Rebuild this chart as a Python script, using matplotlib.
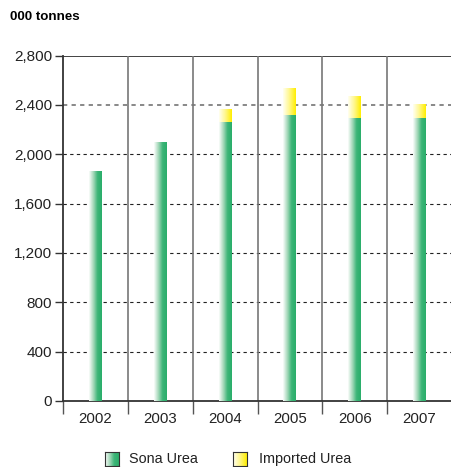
import numpy as np
import matplotlib
matplotlib.use("Agg")
import matplotlib.pyplot as plt
from matplotlib.colors import LinearSegmentedColormap

years = ["2002", "2003", "2004", "2005", "2006", "2007"]
sona = [1860, 2095, 2260, 2315, 2290, 2290]
imported = [0, 0, 100, 215, 175, 110]
yticks = [0, 400, 800, 1200, 1600, 2000, 2400, 2800]

plt.rcParams['font.family'] = ['Liberation Sans', 'DejaVu Sans']

green_cmap = LinearSegmentedColormap.from_list("g", ["#fbfdfb", "#a6d9bb", "#3cb577", "#2aae6a"])
yellow_cmap = LinearSegmentedColormap.from_list("y", ["#fffff2", "#fff78a", "#ffee00"])
grad = np.linspace(0, 1, 64).reshape(1, -1)

fig = plt.figure(figsize=(4.51, 4.67), dpi=100)
ax = fig.add_axes([63/451, 1-401/467, 389/451, (401-55.5)/467])

x = np.arange(len(years))
width = 0.2
ax.set_xlim(-0.5, 5.5)
ax.set_ylim(0, 2800)

# grid
for yv in yticks[1:-1]:
    if yv == 2400:
        ax.axhline(yv, color="#888888", lw=1.4, ls=(0, (2.2, 2.2)), zorder=1)
    else:
        ax.axhline(yv, color="#222222", lw=0.8, ls=(0, (3, 3)), zorder=1)
ax.axhline(2800, color="#222222", lw=1.2, zorder=1)
for sep in np.arange(0.5, 5.0, 1.0):
    ax.axvline(sep, color="#777777", lw=1.2, zorder=1)

# bars with gradient fills
bars1 = ax.bar(x, sona, width, color="none", edgecolor="none", zorder=2)
bars2 = ax.bar(x, imported, width, bottom=sona, color="none", edgecolor="none", zorder=2)
for b in bars1:
    x0, y0, w, h = b.get_x(), b.get_y(), b.get_width(), b.get_height()
    if h > 0:
        ax.imshow(grad, cmap=green_cmap, aspect="auto", extent=[x0, x0+w, y0, y0+h],
                  interpolation="bilinear", zorder=3)
for b in bars2:
    x0, y0, w, h = b.get_x(), b.get_y(), b.get_width(), b.get_height()
    if h > 0:
        ax.imshow(grad, cmap=yellow_cmap, aspect="auto", extent=[x0, x0+w, y0, y0+h],
                  interpolation="bilinear", zorder=3)
ax.set_xlim(-0.5, 5.5)
ax.set_ylim(0, 2800)

for s in ["top", "right"]:
    ax.spines[s].set_visible(False)
ax.spines["left"].set_color("#333333")
ax.spines["left"].set_linewidth(1.3)
ax.spines["bottom"].set_color("#333333")
ax.spines["bottom"].set_linewidth(1.3)

ax.set_yticks(yticks)
ax.set_yticklabels([f"{v:,}" for v in yticks], fontsize=11, color="#222222")
ax.tick_params(axis="y", length=6, width=1, color="#333333", pad=2)

ax.set_xticks(np.arange(-0.5, 5.0, 1.0))
ax.set_xticklabels([])
ax.tick_params(axis="x", length=9, width=1, color="#555555")
for xi, lab in zip(x, years):
    ax.text(xi, -90, lab, ha="center", va="top", fontsize=10.8, color="#222222")

fig.text(10/451, 1-17/467, "000 tonnes", fontsize=9.6, fontweight="bold", va="center", ha="left")

# legend
def legend_box(x0, cmap):
    lax = fig.add_axes([x0/451, 1-466/467, 14/451, 14/467])
    lax.imshow(grad, cmap=cmap, aspect="auto", extent=[0, 1, 0, 1], interpolation="bilinear")
    lax.set_xticks([]); lax.set_yticks([])
    for s in lax.spines.values():
        s.set_color("#333333"); s.set_linewidth(0.8)

legend_box(104.5, green_cmap)
legend_box(233.5, yellow_cmap)
fig.text(129/451, 1-459/467, "Sona Urea", fontsize=10.4, va="center", ha="left", color="#222222")
fig.text(259/451, 1-459/467, "Imported Urea", fontsize=10.4, va="center", ha="left", color="#222222")

fig.savefig("out.png", dpi=100)
